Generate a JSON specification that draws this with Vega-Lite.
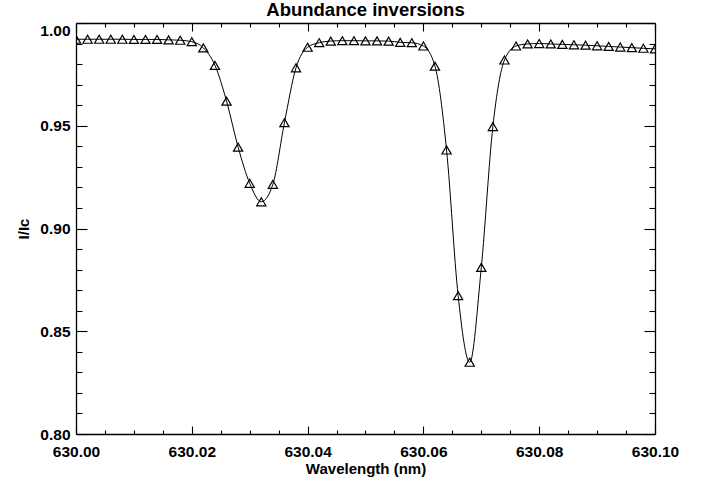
{
  "$schema": "https://vega.github.io/schema/vega-lite/v6.json",
  "width": 579,
  "height": 411,
  "autosize": {"type": "none"},
  "padding": {"left": 76, "top": 23, "right": 46, "bottom": 47},
  "background": "white",
  "title": {
    "text": "Abundance inversions",
    "font": "Liberation Sans",
    "fontSize": 18.5,
    "fontWeight": "bold",
    "color": "black",
    "anchor": "middle",
    "frame": "group",
    "baseline": "alphabetic",
    "offset": -12
  },
  "config": {
    "view": {"stroke": null},
    "axis": {
      "grid": false,
      "domainColor": "black",
      "domainWidth": 1.3,
      "tickColor": "black",
      "tickWidth": 1.1,
      "labelFont": "Liberation Sans",
      "labelFontSize": 15.5,
      "labelFontWeight": "bold",
      "labelColor": "black",
      "labelFlush": false,
      "labelOverlap": false,
      "titleFont": "Liberation Sans",
      "titleFontSize": 15,
      "titleFontWeight": "bold",
      "titleColor": "black"
    }
  },
  "data": {
    "values": [
      {"wavelength": 630.000, "intensity": 0.9921},
      {"wavelength": 630.002, "intensity": 0.9921},
      {"wavelength": 630.004, "intensity": 0.9921},
      {"wavelength": 630.006, "intensity": 0.9921},
      {"wavelength": 630.008, "intensity": 0.9921},
      {"wavelength": 630.010, "intensity": 0.9920},
      {"wavelength": 630.012, "intensity": 0.9920},
      {"wavelength": 630.014, "intensity": 0.9920},
      {"wavelength": 630.016, "intensity": 0.9918},
      {"wavelength": 630.018, "intensity": 0.9916},
      {"wavelength": 630.020, "intensity": 0.9909},
      {"wavelength": 630.022, "intensity": 0.9879},
      {"wavelength": 630.024, "intensity": 0.9794},
      {"wavelength": 630.026, "intensity": 0.9620},
      {"wavelength": 630.028, "intensity": 0.9396},
      {"wavelength": 630.030, "intensity": 0.9220},
      {"wavelength": 630.032, "intensity": 0.9130},
      {"wavelength": 630.034, "intensity": 0.9215},
      {"wavelength": 630.036, "intensity": 0.9515},
      {"wavelength": 630.038, "intensity": 0.9782},
      {"wavelength": 630.040, "intensity": 0.9882},
      {"wavelength": 630.042, "intensity": 0.9904},
      {"wavelength": 630.044, "intensity": 0.9912},
      {"wavelength": 630.046, "intensity": 0.9914},
      {"wavelength": 630.048, "intensity": 0.9914},
      {"wavelength": 630.050, "intensity": 0.9913},
      {"wavelength": 630.052, "intensity": 0.9913},
      {"wavelength": 630.054, "intensity": 0.9912},
      {"wavelength": 630.056, "intensity": 0.9906},
      {"wavelength": 630.058, "intensity": 0.9904},
      {"wavelength": 630.060, "intensity": 0.9888},
      {"wavelength": 630.062, "intensity": 0.9790},
      {"wavelength": 630.064, "intensity": 0.9382},
      {"wavelength": 630.066, "intensity": 0.8673},
      {"wavelength": 630.068, "intensity": 0.8349},
      {"wavelength": 630.070, "intensity": 0.8811},
      {"wavelength": 630.072, "intensity": 0.9496},
      {"wavelength": 630.074, "intensity": 0.9820},
      {"wavelength": 630.076, "intensity": 0.9888},
      {"wavelength": 630.078, "intensity": 0.9898},
      {"wavelength": 630.080, "intensity": 0.9900},
      {"wavelength": 630.082, "intensity": 0.9898},
      {"wavelength": 630.084, "intensity": 0.9896},
      {"wavelength": 630.086, "intensity": 0.9894},
      {"wavelength": 630.088, "intensity": 0.9892},
      {"wavelength": 630.090, "intensity": 0.9889},
      {"wavelength": 630.092, "intensity": 0.9886},
      {"wavelength": 630.094, "intensity": 0.9883},
      {"wavelength": 630.096, "intensity": 0.9880},
      {"wavelength": 630.098, "intensity": 0.9877},
      {"wavelength": 630.100, "intensity": 0.9874}
    ]
  },
  "resolve": {"axis": {"x": "independent", "y": "independent"}},
  "layer": [
    {
      "mark": {"type": "line", "color": "black", "strokeWidth": 1, "interpolate": "monotone", "clip": true},
      "encoding": {
        "x": {
          "field": "wavelength",
          "type": "quantitative",
          "scale": {"domain": [630.0, 630.1], "nice": false, "zero": false},
          "axis": {
            "orient": "bottom",
            "title": "Wavelength (nm)",
            "titlePadding": -3,
            "values": [630.0, 630.005, 630.01, 630.015, 630.02, 630.025, 630.03, 630.035, 630.04, 630.045, 630.05, 630.055, 630.06, 630.065, 630.07, 630.075, 630.08, 630.085, 630.09, 630.095, 630.1],
            "labelExpr": "abs(datum.value * 50 - round(datum.value * 50)) < 0.001 ? format(datum.value, '.2f') : ''",
            "tickSize": {"condition": {"test": "abs(datum.value * 50 - round(datum.value * 50)) < 0.001", "value": -8}, "value": -4},
            "labelPadding": 18.5
          }
        },
        "y": {
          "field": "intensity",
          "type": "quantitative",
          "scale": {"domain": [0.8, 1.0], "nice": false, "zero": false},
          "axis": {
            "orient": "left",
            "title": "I/Ic",
            "titlePadding": 8,
            "values": [0.8, 0.81, 0.82, 0.83, 0.84, 0.85, 0.86, 0.87, 0.88, 0.89, 0.9, 0.91, 0.92, 0.93, 0.94, 0.95, 0.96, 0.97, 0.98, 0.99, 1.0],
            "labelExpr": "abs(datum.value * 20 - round(datum.value * 20)) < 0.001 ? format(datum.value, '.2f') : ''",
            "labelBaseline": {"condition": {"test": "datum.value > 0.999", "value": "top"}, "value": "middle"},
            "tickSize": {"condition": {"test": "abs(datum.value * 20 - round(datum.value * 20)) < 0.001", "value": -11}, "value": -6},
            "labelPadding": 17
          }
        }
      }
    },
    {
      "mark": {"type": "point", "shape": "triangle-up", "size": 85, "filled": false, "stroke": "black", "strokeWidth": 1.2, "opacity": 1, "clip": true},
      "encoding": {
        "x": {
          "field": "wavelength",
          "type": "quantitative",
          "axis": {
            "orient": "top",
            "title": null,
            "labels": false,
            "values": [630.0, 630.005, 630.01, 630.015, 630.02, 630.025, 630.03, 630.035, 630.04, 630.045, 630.05, 630.055, 630.06, 630.065, 630.07, 630.075, 630.08, 630.085, 630.09, 630.095, 630.1],
            "tickSize": {"condition": {"test": "abs(datum.value * 50 - round(datum.value * 50)) < 0.001", "value": -8}, "value": -4}
          }
        },
        "y": {
          "field": "intensity",
          "type": "quantitative",
          "axis": {
            "orient": "right",
            "title": null,
            "labels": false,
            "values": [0.8, 0.81, 0.82, 0.83, 0.84, 0.85, 0.86, 0.87, 0.88, 0.89, 0.9, 0.91, 0.92, 0.93, 0.94, 0.95, 0.96, 0.97, 0.98, 0.99, 1.0],
            "tickSize": {"condition": {"test": "abs(datum.value * 20 - round(datum.value * 20)) < 0.001", "value": -11}, "value": -6}
          }
        }
      }
    }
  ]
}
